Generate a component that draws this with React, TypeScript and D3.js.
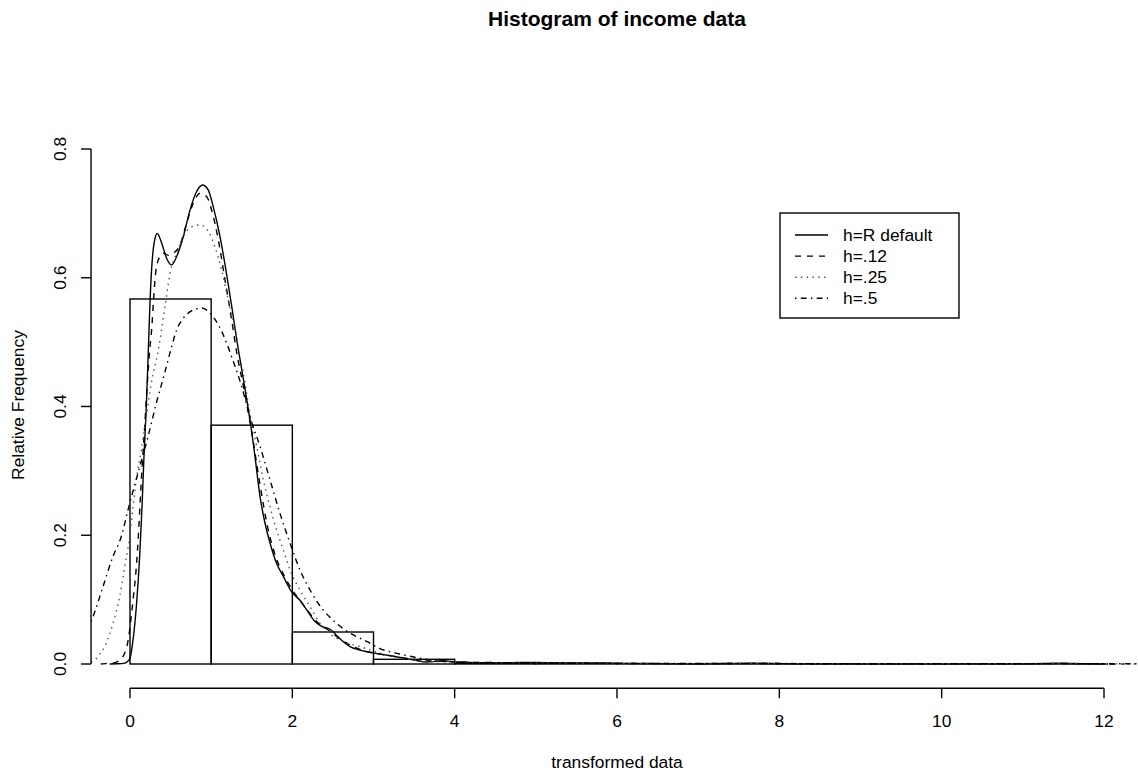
import { useEffect } from 'react';
import * as d3 from 'd3';

const WIDTH = 1138;
const HEIGHT = 772;
const FONT = '"Liberation Sans", Arial, Helvetica, sans-serif';

// histogram of the transformed data (relative frequency per unit bin)
const binStarts = [0, 1, 2, 3, 4, 5, 6, 7, 8, 9, 10, 11];
const binHeights = [0.567, 0.371, 0.0497, 0.0073, 0.002, 0.0012, 0.0005, 0.0004, 0.0002, 0.0001, 0.0001, 0.0004];

const xTicks = [0, 2, 4, 6, 8, 10, 12];
const yTicks = [0, 0.2, 0.4, 0.6, 0.8];

// kernel density estimates, [x, density]
const densDefault: [number, number][] = [
  [-0.25, 0], [-0.15, 0.0003], [-0.08, 0.001], [-0.03, 0.004], [0, 0.009], [0.037, 0.037],
  [0.078, 0.089], [0.119, 0.167], [0.148, 0.244], [0.172, 0.322], [0.201, 0.4], [0.23, 0.503],
  [0.246, 0.56], [0.267, 0.615], [0.287, 0.645], [0.31, 0.662], [0.336, 0.669], [0.36, 0.664],
  [0.39, 0.654], [0.452, 0.63], [0.513, 0.62], [0.575, 0.633], [0.657, 0.664], [0.739, 0.705],
  [0.821, 0.734], [0.895, 0.744], [0.965, 0.736], [1.026, 0.71], [1.109, 0.664], [1.191, 0.605],
  [1.26, 0.55], [1.32, 0.5], [1.4, 0.44], [1.458, 0.395], [1.5, 0.36], [1.54, 0.322],
  [1.602, 0.26], [1.663, 0.219], [1.725, 0.188], [1.807, 0.156], [1.889, 0.136], [1.992, 0.112],
  [2.094, 0.099], [2.177, 0.084], [2.279, 0.066], [2.37, 0.058], [2.464, 0.054], [2.58, 0.04],
  [2.71, 0.027], [2.82, 0.022], [2.92, 0.019], [3.1, 0.015], [3.33, 0.01], [3.5, 0.006],
  [3.65, 0.003], [3.76, 0.004], [3.86, 0.005], [3.95, 0.004], [4.03, 0.003], [4.3, 0.002],
  [4.7, 0.0022], [5, 0.0025], [5.3, 0.0018], [5.6, 0.0012], [6, 0.001], [6.5, 0.0006],
  [7, 0.0004], [7.4, 0.0008], [7.7, 0.0012], [8, 0.0006], [8.4, 0.0003], [9, 0.0002],
  [10, 0.0002], [11, 0.0003], [11.3, 0.0008], [11.46, 0.0012], [11.65, 0.0006], [11.85, 0.0002],
  [12.05, 0],
];

const densH12: [number, number][] = [
  [-0.36, 0], [-0.3, 0.0006], [-0.2, 0.0015], [-0.148, 0.004], [-0.1, 0.009], [-0.065, 0.017],
  [-0.03, 0.032], [-0.004, 0.053], [0.037, 0.099], [0.078, 0.151], [0.107, 0.208], [0.131, 0.265],
  [0.152, 0.312], [0.181, 0.369], [0.213, 0.436], [0.243, 0.488], [0.267, 0.52], [0.29, 0.565],
  [0.308, 0.597], [0.349, 0.628], [0.411, 0.638], [0.472, 0.635], [0.534, 0.638], [0.616, 0.651],
  [0.698, 0.685], [0.78, 0.716], [0.862, 0.731], [0.945, 0.726], [1.006, 0.705], [1.088, 0.659],
  [1.17, 0.597], [1.253, 0.534], [1.32, 0.48], [1.4, 0.43], [1.5, 0.36], [1.6, 0.28],
  [1.7, 0.21], [1.8, 0.165], [1.9, 0.137], [2, 0.115], [2.1, 0.098], [2.2, 0.081],
  [2.3, 0.066], [2.45, 0.052], [2.6, 0.038], [2.75, 0.027], [2.9, 0.02], [3.1, 0.015],
  [3.3, 0.011], [3.5, 0.007], [3.7, 0.0045], [3.9, 0.004], [4.1, 0.003], [4.5, 0.0022],
  [5, 0.002], [5.5, 0.0014], [6, 0.001], [7, 0.0005], [7.7, 0.0009], [8.5, 0.0003],
  [10, 0.0002], [11, 0.0003], [11.46, 0.0009], [11.9, 0.0002], [12.25, 0],
];

const densH25: [number, number][] = [
  [-0.48, 0.003], [-0.435, 0.006], [-0.37, 0.016], [-0.312, 0.027], [-0.26, 0.043], [-0.21, 0.063],
  [-0.127, 0.105], [-0.065, 0.151], [-0.004, 0.198], [0.037, 0.244], [0.078, 0.286], [0.139, 0.332],
  [0.201, 0.384], [0.262, 0.436], [0.345, 0.485], [0.431, 0.555], [0.493, 0.607], [0.575, 0.638],
  [0.657, 0.664], [0.76, 0.679], [0.862, 0.682], [0.965, 0.672], [1.047, 0.648], [1.129, 0.612],
  [1.211, 0.565], [1.294, 0.519], [1.35, 0.48], [1.396, 0.452], [1.478, 0.389], [1.561, 0.338],
  [1.642, 0.286], [1.725, 0.244], [1.807, 0.208], [1.889, 0.177], [1.971, 0.146], [2.094, 0.115],
  [2.218, 0.089], [2.34, 0.063], [2.587, 0.037], [2.834, 0.027], [3.162, 0.014], [3.49, 0.0062],
  [3.737, 0.0036], [4, 0.0028], [4.5, 0.0022], [5, 0.002], [6, 0.001], [7, 0.0006],
  [8, 0.0006], [9, 0.0003], [10, 0.0003], [11, 0.0004], [11.5, 0.0008], [12, 0.0003],
  [12.6, 0],
];

const densH5: [number, number][] = [
  [-0.48, 0.066], [-0.456, 0.0735], [-0.333, 0.12], [-0.21, 0.167], [-0.107, 0.198], [-0.025, 0.239],
  [0.099, 0.297], [0.222, 0.353], [0.324, 0.405], [0.427, 0.452], [0.509, 0.491], [0.575, 0.519],
  [0.657, 0.537], [0.78, 0.55], [0.883, 0.553], [0.986, 0.545], [1.088, 0.527], [1.17, 0.505],
  [1.253, 0.477], [1.376, 0.431], [1.478, 0.384], [1.602, 0.338], [1.725, 0.286], [1.848, 0.234],
  [1.971, 0.188], [2.094, 0.146], [2.218, 0.115], [2.32, 0.094], [2.546, 0.063], [2.71, 0.048],
  [2.916, 0.035], [3.08, 0.024], [3.326, 0.0155], [3.573, 0.0089], [3.819, 0.0047], [4.066, 0.0025],
  [4.5, 0.0018], [5, 0.0015], [6, 0.001], [7, 0.0008], [8, 0.0007], [9, 0.0005],
  [10, 0.0005], [11, 0.0006], [12, 0.0005], [12.5, 0.0003],
];

const legendLabels = ['h=R default', 'h=.12', 'h=.25', 'h=.5'];
// R line types: solid, dashed, dotted, dotdash
const dashes = ['none', '6 6', '1.5 4.3', '1.5 4.3 5.8 4.3'];
const curveColors = ['#000', '#000', '#555', '#000'];
const series = [densDefault, densH12, densH25, densH5];

// plot region in data units (R pads the range by 4%)
const xLim = [-0.48, 12.48];
const yBottom = -0.0377;

export default function App() {
  useEffect(() => {
    document.body.style.margin = '0';
  }, []);

  const x = d3.scaleLinear().domain([0, 12]).range([130, 1104]);
  const y = d3.scaleLinear().domain([0, 0.8]).range([664, 149]);

  const plotLeft = x(xLim[0]);
  const plotRight = x(xLim[1]);
  const plotBottom = y(yBottom);
  const plotTop = y(0.85);

  const line = d3
    .line<[number, number]>()
    .x((d) => x(d[0]))
    .y((d) => y(d[1]))
    .curve(d3.curveMonotoneX);

  const lw = 1.4;

  return (
    <svg
      width={WIDTH}
      height={HEIGHT}
      viewBox={`0 0 ${WIDTH} ${HEIGHT}`}
      style={{ display: 'block', position: 'absolute', left: 0, top: 0, background: '#fff' }}
      fontFamily={FONT}
    >
      <defs>
        <clipPath id="plot-clip">
          <rect x={plotLeft} y={plotTop - 100} width={plotRight - plotLeft} height={plotBottom - plotTop + 100} />
        </clipPath>
      </defs>

      <text x={(plotLeft + plotRight) / 2} y={26} textAnchor="middle" fontSize={21} fontWeight="bold">
        Histogram of income data
      </text>

      {/* histogram bars */}
      <g fill="none" stroke="#000" strokeWidth={lw}>
        {binStarts.map((b, i) => (
          <rect
            key={b}
            x={x(b)}
            y={y(binHeights[i])}
            width={x(b + 1) - x(b)}
            height={y(0) - y(binHeights[i])}
          />
        ))}
      </g>

      {/* density curves */}
      <g clipPath="url(#plot-clip)" fill="none">
        {series.map((s, i) => (
          <path
            key={i}
            d={line(s) ?? ''}
            stroke={curveColors[i]}
            strokeWidth={lw}
            strokeDasharray={dashes[i]}
          />
        ))}
      </g>

      {/* x axis */}
      <g stroke="#000" strokeWidth={lw}>
        <line x1={x(xTicks[0])} x2={x(xTicks[xTicks.length - 1])} y1={plotBottom} y2={plotBottom} />
        {xTicks.map((t) => (
          <line key={t} x1={x(t)} x2={x(t)} y1={plotBottom} y2={plotBottom + 10} />
        ))}
      </g>
      <g fontSize={17.4} textAnchor="middle">
        {xTicks.map((t) => (
          <text key={t} x={x(t)} y={727}>
            {t}
          </text>
        ))}
      </g>

      {/* y axis */}
      <g stroke="#000" strokeWidth={lw}>
        <line x1={plotLeft} x2={plotLeft} y1={y(yTicks[0])} y2={y(yTicks[yTicks.length - 1])} />
        {yTicks.map((t) => (
          <line key={t} x1={plotLeft - 10} x2={plotLeft} y1={y(t)} y2={y(t)} />
        ))}
      </g>
      <g fontSize={17.4} textAnchor="middle">
        {yTicks.map((t) => (
          <text key={t} transform={`translate(66,${y(t)}) rotate(-90)`}>
            {d3.format('.1f')(t)}
          </text>
        ))}
      </g>

      <text x={(plotLeft + plotRight) / 2} y={768} textAnchor="middle" fontSize={17.4}>
        transformed data
      </text>
      <text transform={`translate(24,405) rotate(-90)`} textAnchor="middle" fontSize={17.4}>
        Relative Frequency
      </text>

      {/* legend */}
      <g>
        <rect x={780} y={213} width={179} height={105} fill="#fff" stroke="#000" strokeWidth={lw} />
        {legendLabels.map((lab, i) => {
          const cy = 235 + i * 21.1;
          return (
            <g key={lab}>
              <line
                x1={795}
                x2={828}
                y1={cy}
                y2={cy}
                stroke={curveColors[i]}
                strokeWidth={lw}
                strokeDasharray={dashes[i]}
              />
              <text x={843} y={cy + 6} fontSize={17.4}>
                {lab}
              </text>
            </g>
          );
        })}
      </g>
    </svg>
  );
}
